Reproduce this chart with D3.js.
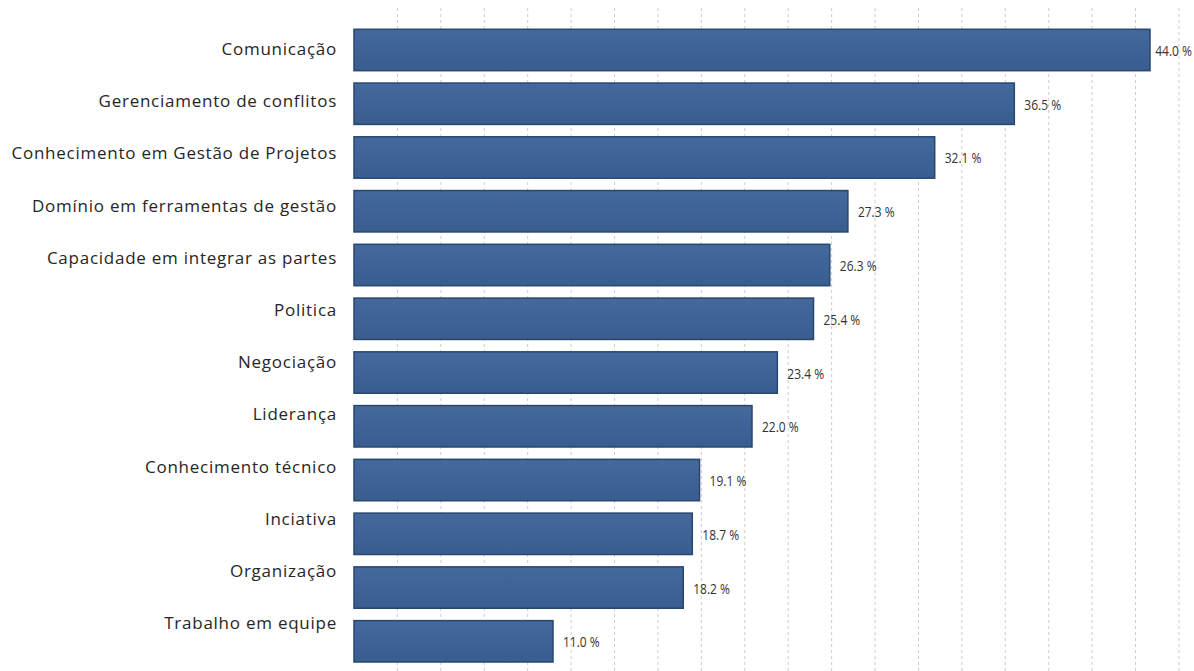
<!DOCTYPE html>
<html>
<head>
<meta charset="utf-8">
<script src="https://cdn.jsdelivr.net/npm/d3@7"></script>
<style>
    body { margin: 0; background: #fff; }
    svg { display: block; }
</style>
</head>
<body>
<svg id="chart"></svg>
<script>
// data
const categories = ['Comunicação', 'Gerenciamento de conflitos', 'Conhecimento em Gestão de Projetos',
    'Domínio em ferramentas de gestão', 'Capacidade em integrar as partes', 'Politica', 'Negociação',
    'Liderança', 'Conhecimento técnico', 'Inciativa', 'Organização', 'Trabalho em equipe'];
const values = [44.0, 36.5, 32.1, 27.3, 26.3, 25.4, 23.4, 22.0, 19.1, 18.7, 18.2, 11.0];
const valueLabels = ['44.0 %', '36.5 %', '32.1 %', '27.3 %', '26.3 %', '25.4 %', '23.4 %',
    '22.0 %', '19.1 %', '18.7 %', '18.2 %', '11.0 %'];
const gridTicks = [2.4, 4.8, 7.2, 9.6, 12, 14.4, 16.8, 19.2, 21.6, 24, 26.4, 28.8, 31.2,
    33.6, 36, 38.4, 40.8, 43.2, 45.6];

const width = 1194;
const height = 671;

const svg = d3.select('#chart')
    .attr('width', width)
    .attr('height', height);

const x = d3.scaleLinear()
    .domain([0, 44])
    .range([354, 1150]);

const y = d3.scaleBand()
    .domain(categories)
    .range([23.1, 668.2])
    .paddingInner(0.23)
    .paddingOuter(0.115);

// labels sit on their own, slightly tighter, spacing
const yLabel = d3.scalePoint()
    .domain(categories)
    .range([55, 629.3]);

// gradient for the bars
const grad = svg.append('defs').append('linearGradient')
    .attr('id', 'barGrad')
    .attr('x1', 0).attr('y1', 0).attr('x2', 0).attr('y2', 1);
grad.append('stop').attr('offset', '0%').attr('stop-color', '#44699c');
grad.append('stop').attr('offset', '100%').attr('stop-color', '#3a5d90');

// dashed vertical grid
svg.append('g')
    .selectAll('line')
    .data(gridTicks)
    .enter().append('line')
    .attr('x1', d => x(d))
    .attr('x2', d => x(d))
    .attr('y1', 8)
    .attr('y2', height)
    .attr('stroke', '#cccccc')
    .attr('stroke-width', 1)
    .attr('stroke-dasharray', '3,3');

// bars
svg.append('g')
    .selectAll('rect')
    .data(values)
    .enter().append('rect')
    .attr('x', x(0))
    .attr('y', (d, i) => y(categories[i]))
    .attr('width', d => x(d) - x(0))
    .attr('height', y.bandwidth())
    .attr('fill', 'url(#barGrad)')
    .attr('stroke', '#27476f')
    .attr('stroke-width', 1.5);

// category labels
svg.append('g')
    .selectAll('text')
    .data(categories)
    .enter().append('text')
    .attr('x', 337)
    .attr('y', d => yLabel(d))
    .attr('text-anchor', 'end')
    .attr('font-family', 'Open Sans, sans-serif')
    .attr('font-size', 17)
    .attr('letter-spacing', 0.75)
    .attr('fill', '#262626')
    .text(d => d);

// value labels (condensed look)
const vl = svg.append('g')
    .selectAll('text')
    .data(values)
    .enter().append('text')
    .attr('font-family', 'Open Sans, sans-serif')
    .attr('font-size', 15)
    .attr('fill', '#333')
    .text((d, i) => valueLabels[i]);

vl.each(function (d, i) {
    const w = this.getBBox().width * 0.8;
    let px = x(d) + 10;
    if (px + w > width - 2) px = width - 2 - w;
    const py = y(categories[i]) + y.bandwidth() / 2 + 6;
    d3.select(this).attr('transform', 'translate(' + px + ',' + py + ') scale(0.8,1)');
});
</script>
</body>
</html>
